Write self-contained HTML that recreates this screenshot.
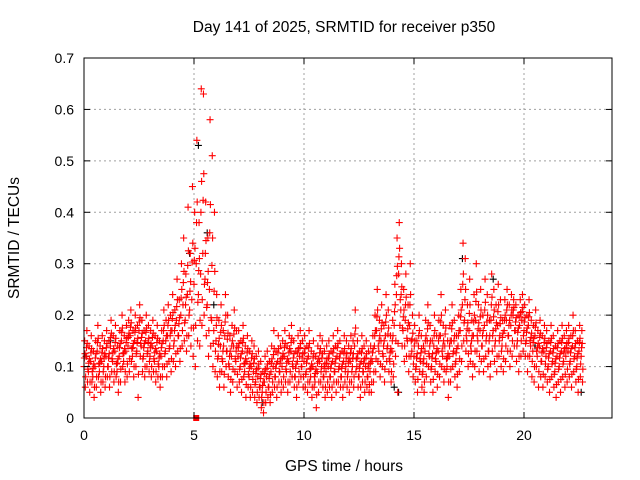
<!DOCTYPE html>
<html><head><meta charset="utf-8"><style>
body{margin:0;background:#fff;}
svg{display:block;font-family:"Liberation Sans",sans-serif;}
</style></head><body>
<svg id="chart" width="640" height="480">
<rect x="0" y="0" width="640" height="480" fill="#fff"/>
<g id="grid"></g>
<g id="marks"></g>
<rect x="84" y="58" width="528" height="360" fill="none" stroke="#000" stroke-width="1"/>
<g id="ticks"></g>
<text x="344" y="32" text-anchor="middle" font-size="15.5">Day 141 of 2025, SRMTID for receiver p350</text>
<text x="344" y="471" text-anchor="middle" font-size="15.5">GPS time / hours</text>
<text x="19" y="238" text-anchor="middle" font-size="15.5" transform="rotate(-90 19 238)">SRMTID / TECUs</text>
</svg>
<script>
const xTicks=[0,5,10,15,20];
const yTicks=[0,0.1,0.2,0.3,0.4,0.5,0.6,0.7];
const yTickLabels=["0","0.1","0.2","0.3","0.4","0.5","0.6","0.7"];
const tStart=0, tStep=0.1;
const midVals=[.10,.12,.09,.11,.08,.10,.13,.09,.11,.10,
.12,.10,.14,.11,.13,.09,.12,.15,.11,.13,
.14,.16,.12,.15,.13,.17,.14,.12,.15,.13,
.12,.14,.11,.13,.10,.12,.15,.13,.16,.14,
.17,.15,.19,.16,.20,.22,.19,.24,.21,.23,
.26,.30,.24,.28,.32,.27,.22,.25,.19,.17,
.15,.12,.14,.11,.16,.13,.10,.12,.14,.11,
.12,.10,.13,.09,.11,.08,.10,.09,.07,.08,
.06,.05,.07,.08,.06,.09,.10,.08,.11,.09,
.10,.12,.09,.11,.13,.10,.08,.11,.12,.10,
.11,.09,.12,.08,.10,.07,.09,.11,.10,.08,
.09,.10,.08,.11,.09,.12,.10,.08,.11,.10,
.09,.11,.10,.14,.10,.08,.11,.09,.10,.08,
.09,.11,.14,.17,.13,.15,.12,.16,.14,.11,
.13,.18,.24,.28,.21,.17,.19,.15,.18,.13,
.12,.10,.14,.11,.09,.13,.15,.12,.10,.14,
.11,.13,.16,.12,.14,.10,.12,.15,.13,.11,
.14,.17,.22,.19,.15,.17,.13,.16,.19,.15,
.17,.14,.18,.16,.13,.19,.17,.15,.18,.16,
.14,.17,.19,.16,.18,.20,.17,.15,.18,.19,
.17,.15,.18,.14,.13,.16,.12,.14,.11,.13,
.12,.10,.13,.11,.09,.12,.10,.13,.11,.12,
.13,.11,.14,.12,.10,.13,.12];
const hiVals=[.15,.17,.14,.16,.13,.15,.18,.14,.16,.15,
.17,.15,.19,.16,.18,.14,.17,.20,.16,.18,
.19,.21,.17,.20,.18,.22,.19,.17,.20,.18,
.17,.19,.16,.18,.15,.17,.21,.19,.22,.20,
.24,.21,.27,.23,.30,.35,.28,.41,.32,.45,
.40,.54,.38,.64,.63,.42,.35,.58,.51,.40,
.24,.19,.22,.17,.24,.20,.16,.18,.21,.17,
.17,.15,.18,.14,.16,.13,.15,.14,.12,.13,
.11,.09,.12,.13,.11,.14,.17,.13,.16,.14,
.15,.17,.14,.16,.18,.15,.13,.16,.17,.15,
.16,.14,.17,.13,.15,.12,.14,.16,.15,.13,
.14,.15,.13,.16,.14,.17,.15,.13,.16,.15,
.14,.16,.15,.21,.15,.13,.16,.14,.15,.13,
.14,.16,.20,.25,.19,.22,.18,.24,.21,.16,
.19,.26,.35,.38,.30,.25,.28,.22,.30,.20,
.18,.15,.20,.16,.14,.19,.22,.18,.15,.20,
.16,.19,.24,.18,.21,.15,.18,.22,.19,.16,
.20,.25,.34,.31,.22,.27,.19,.24,.30,.22,
.25,.20,.27,.24,.19,.28,.25,.22,.26,.23,
.19,.23,.25,.22,.24,.23,.22,.20,.23,.24,
.22,.20,.23,.19,.18,.21,.17,.19,.16,.18,
.17,.15,.18,.16,.14,.17,.15,.18,.16,.17,
.18,.16,.20,.17,.15,.18,.17];
const loVals=[.06,.07,.05,.07,.04,.06,.08,.05,.07,.06,
.08,.06,.09,.07,.08,.05,.07,.10,.07,.08,
.09,.11,.08,.10,.04,.12,.09,.08,.10,.09,
.08,.09,.07,.08,.06,.08,.10,.08,.11,.09,
.11,.10,.13,.11,.14,.15,.13,.16,.14,.12,
.10,.15,.14,.18,.20,.16,.12,.14,.10,.09,
.08,.06,.09,.06,.10,.08,.05,.07,.09,.06,
.07,.05,.08,.04,.06,.04,.05,.04,.03,.04,
.02,.01,.03,.04,.03,.05,.06,.04,.07,.05,
.06,.07,.05,.07,.08,.06,.04,.07,.08,.06,
.06,.05,.07,.04,.06,.02,.05,.07,.06,.04,
.05,.06,.04,.07,.05,.07,.06,.04,.07,.06,
.05,.07,.06,.09,.06,.04,.07,.05,.06,.05,
.05,.07,.09,.11,.08,.10,.07,.11,.09,.07,
.08,.12,.05,.18,.14,.11,.12,.09,.12,.08,
.07,.05,.09,.06,.05,.08,.10,.07,.05,.09,
.06,.08,.10,.07,.09,.04,.07,.10,.08,.06,
.09,.11,.15,.13,.10,.11,.08,.10,.13,.09,
.11,.09,.12,.10,.08,.13,.11,.09,.12,.10,
.09,.11,.13,.10,.12,.14,.11,.09,.12,.13,
.12,.09,.12,.08,.07,.10,.06,.08,.06,.08,
.07,.05,.08,.06,.04,.07,.05,.08,.06,.07,
.08,.06,.09,.07,.05,.08,.07];
const blackT=[0.1,1.2,4.8,5.2,5.6,8.1,14.3,17.2,18.6,20.5,22.6,14.1,5.9];
const blackV=[0.12,0.15,0.32,0.53,0.36,0.03,0.05,0.31,0.27,0.14,0.05,0.06,0.22];
const squareT=[5.1], squareV=[0];

const X0=84,X1=612,Y0=418,Y1=58;
function xs(t){return X0+(t-0)/(24-0)*(X1-X0);}
function ys(v){return Y0-(v-0)/(0.7-0)*(Y0-Y1);}
const NS="http://www.w3.org/2000/svg";
const grid=document.getElementById('grid'),ticks=document.getElementById('ticks'),marks=document.getElementById('marks');
function mk(tag,attrs,parent){const e=document.createElementNS(NS,tag);for(const k in attrs)e.setAttribute(k,attrs[k]);parent.appendChild(e);return e;}
yTicks.forEach((v,i)=>{
  const y=ys(v);
  if(i>0&&i<yTicks.length-1){const g=mk('line',{x1:X0,x2:X1,y1:y,y2:y,stroke:'#a0a0a0','stroke-dasharray':'2,3','stroke-width':1},grid);
  
  }
  const t1=mk('line',{x1:X0,x2:X0+6,y1:y,y2:y,stroke:'#000'},ticks);
  
  
  const t2=mk('line',{x1:X1-6,x2:X1,y1:y,y2:y,stroke:'#000'},ticks);
  
  
  const l=mk('text',{x:X0-10,y:y+5,'text-anchor':'end','font-size':14},ticks);
  l.textContent=yTickLabels[i];
  
  
});
xTicks.forEach((v,i)=>{
  const x=xs(v);
  if(i>0){const g=mk('line',{x1:x,x2:x,y1:Y1,y2:Y0,stroke:'#a0a0a0','stroke-dasharray':'2,3','stroke-width':1},grid);
  
  }
  const t1=mk('line',{x1:x,x2:x,y1:Y0-6,y2:Y0,stroke:'#000'},ticks);
  
  
  const t2=mk('line',{x1:x,x2:x,y1:Y1,y2:Y1+6,stroke:'#000'},ticks);
  
  
  const l=mk('text',{x:x,y:Y0+22,'text-anchor':'middle','font-size':14},ticks);
  l.textContent=String(v);
  
  
});
function plus(t,v,color){
  const x=xs(t),y=ys(v);
  const p=mk('path',{d:`M${x-3.5},${y}H${x+3.5}M${x},${y-3.5}V${y+3.5}`,stroke:color,'stroke-width':1.1,fill:'none'},marks);
  
  
}
for(let i=0;i<blackT.length;i++)plus(blackT[i],blackV[i],'#000');
for(let i=0;i<midVals.length;i++){
  const t=tStart+i*tStep;
  plus(t,midVals[i],'#ff0000');
  plus(t+0.03,hiVals[i],'#ff0000');
  plus(t+0.06,loVals[i],'#ff0000');
  plus(t+0.045,(midVals[i]+hiVals[i])/2,'#ff0000');
  plus(t+0.075,(midVals[i]+loVals[i])/2,'#ff0000');
  plus(t+0.015,(midVals[i]*2+hiVals[i])/3,'#ff0000');
}
for(let i=0;i<squareT.length;i++){
  const r=mk('rect',{x:xs(squareT[i])-3,y:ys(squareV[i])-3,width:6,height:6,fill:'#ff0000'},marks);
  
  
}
</script>
</body></html>
